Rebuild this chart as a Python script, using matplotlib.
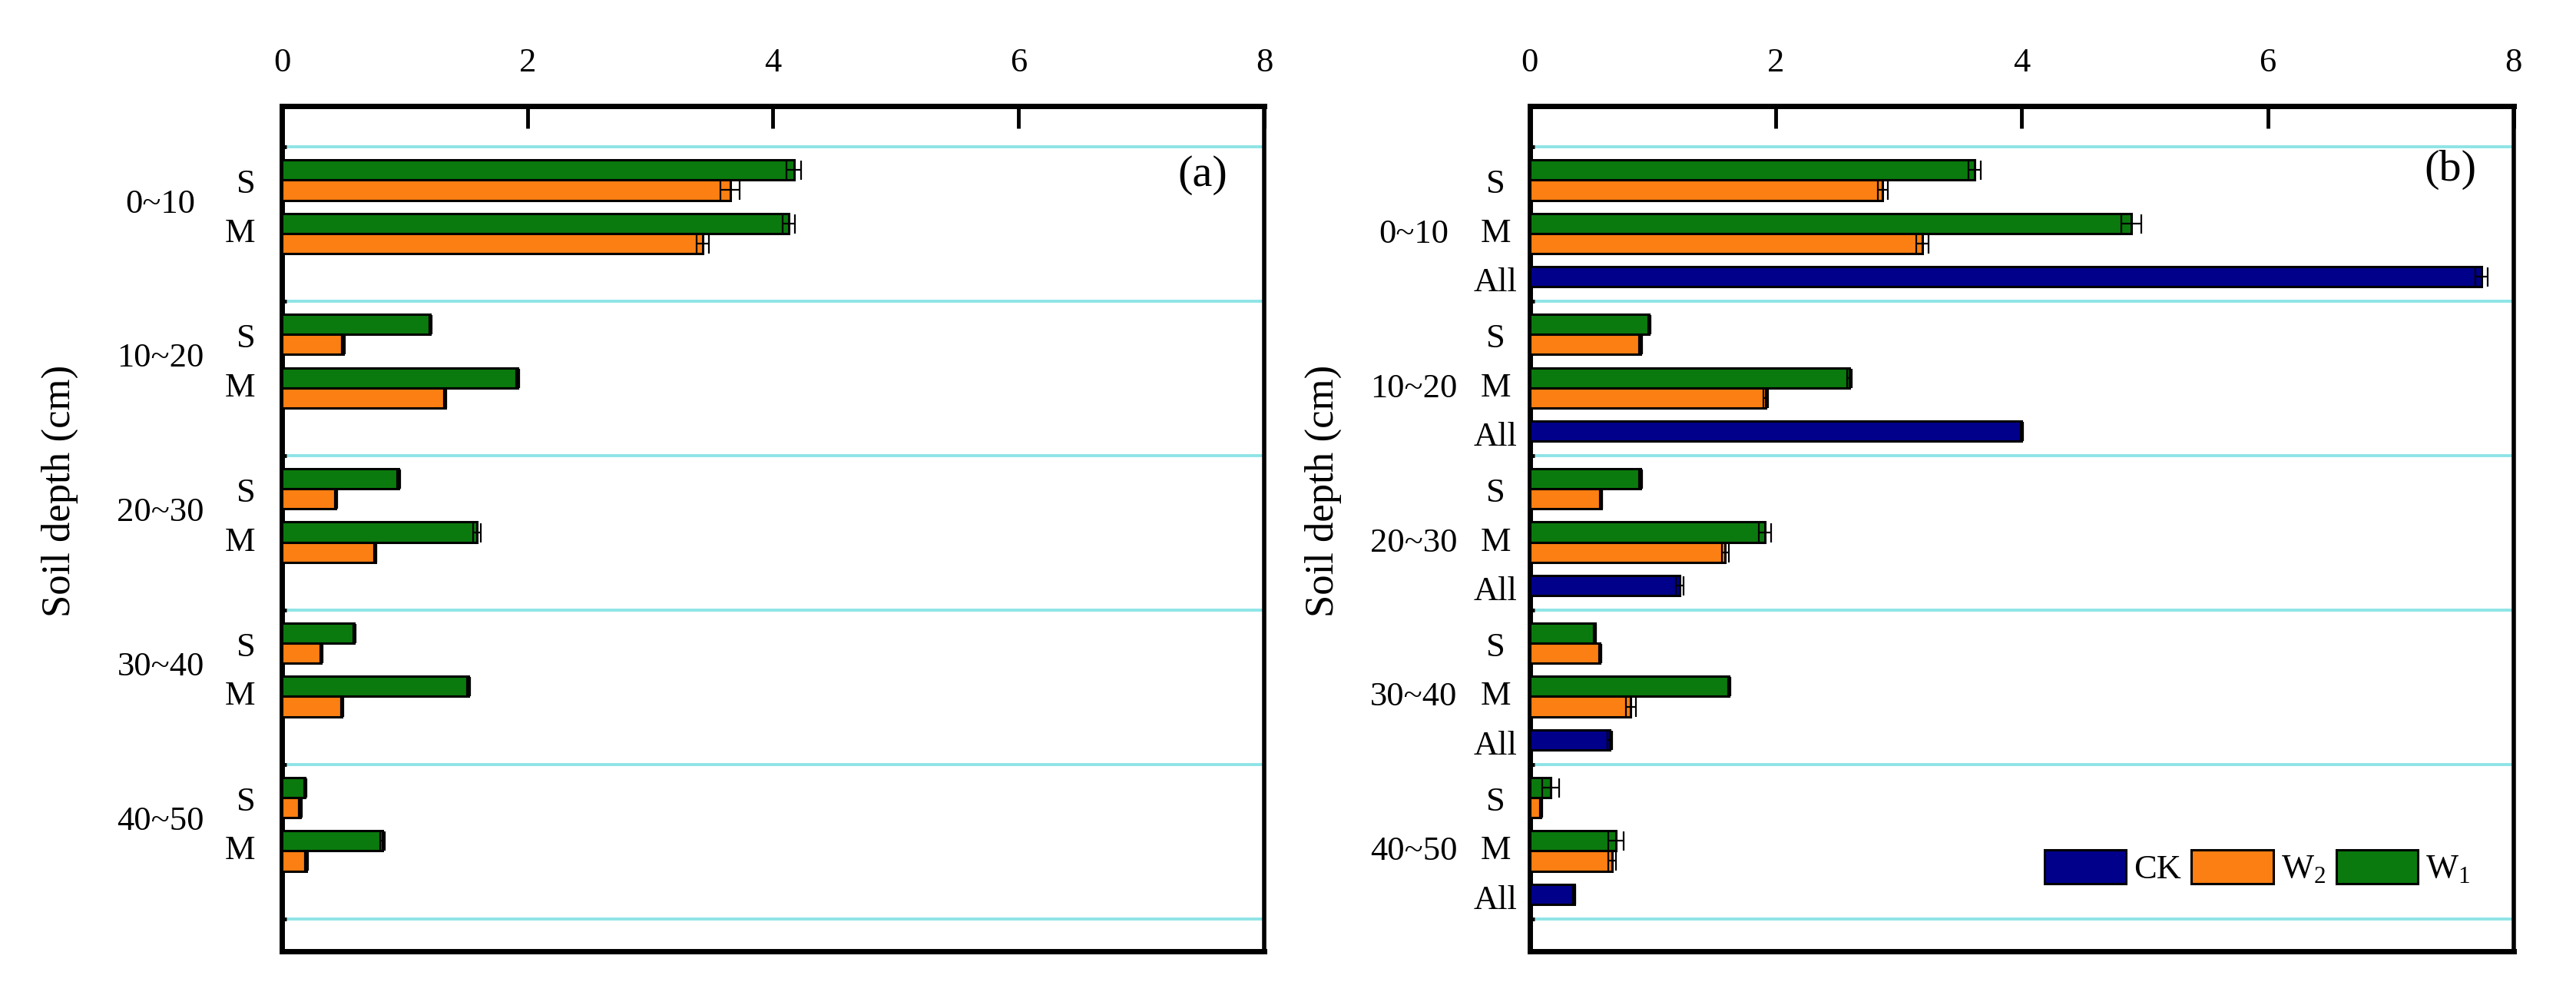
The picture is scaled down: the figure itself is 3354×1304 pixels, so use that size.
import numpy as np
import matplotlib
matplotlib.use("Agg")
import matplotlib.pyplot as plt
import matplotlib.transforms as mtransforms

plt.rcParams['font.family'] = ['Liberation Serif', 'DejaVu Serif']
plt.rcParams['mathtext.fontset'] = 'custom'
plt.rcParams['mathtext.rm'] = 'Liberation Serif'

# data
depths = ['0~10', '10~20', '20~30', '30~40', '40~50']

# panel (a)
a_w1_s = [4.17, 1.21, 0.95, 0.59, 0.19]
a_w1_s_err = [0.06, 0.01, 0.01, 0.01, 0.01]
a_w2_s = [3.65, 0.50, 0.44, 0.32, 0.15]
a_w2_s_err = [0.08, 0.01, 0.01, 0.01, 0.01]
a_w1_m = [4.13, 1.92, 1.59, 1.52, 0.82]
a_w1_m_err = [0.05, 0.01, 0.03, 0.01, 0.02]
a_w2_m = [3.43, 1.33, 0.76, 0.49, 0.20]
a_w2_m_err = [0.05, 0.01, 0.01, 0.01, 0.01]

# panel (b)
b_w1_s = [3.62, 0.97, 0.90, 0.53, 0.17]
b_w1_s_err = [0.05, 0.01, 0.01, 0.01, 0.07]
b_w2_s = [2.87, 0.90, 0.58, 0.57, 0.09]
b_w2_s_err = [0.04, 0.01, 0.01, 0.01, 0.01]
b_w1_m = [4.89, 2.60, 1.91, 1.62, 0.70]
b_w1_m_err = [0.08, 0.02, 0.05, 0.01, 0.06]
b_w2_m = [3.19, 1.92, 1.59, 0.82, 0.67]
b_w2_m_err = [0.05, 0.02, 0.03, 0.04, 0.03]
b_ck_all = [7.74, 4.00, 1.22, 0.65, 0.36]
b_ck_all_err = [0.05, 0.01, 0.03, 0.02, 0.01]

C_W1 = '#0b7a0e'
C_W2 = '#fb7f12'
C_CK = '#00008b'
GRID = '#8ee4e6'

# row offsets inside each depth group (group spans 1 unit)
OFF_S_W1, OFF_S_W2 = 0.150, 0.280
OFF_M_W1, OFF_M_W2 = 0.495, 0.625
OFF_ALL = 0.840
BAR_H = 0.13
FS = 32

y0 = np.arange(len(depths))


def hbars(ax, off, vals, errs, color, label=None):
    return ax.barh(y0 + off, vals, height=BAR_H, xerr=errs, color=color,
                   edgecolor='black', linewidth=2.2, label=label,
                   error_kw=dict(ecolor='black', elinewidth=1.6, capsize=9,
                                 capthick=1.6), zorder=3)


def style(ax):
    ax.set_xlim(0, 8)
    ax.set_ylim(5.21, -0.265)
    ax.xaxis.tick_top()
    ax.set_xticks([0, 2, 4, 6, 8])
    ax.tick_params(axis='x', direction='in', length=21, width=3.5,
                   labelsize=FS, pad=26, bottom=False, top=True)
    ax.set_yticks(np.arange(len(depths) + 1))
    ax.tick_params(axis='y', direction='in', length=4, width=3.5,
                   labelleft=False)
    ax.yaxis.grid(True, color=GRID, linewidth=2.8)
    ax.set_axisbelow(True)
    for sp in ax.spines.values():
        sp.set_linewidth(5)
    ax.spines['right'].set_linewidth(4)


fig = plt.figure(figsize=(33.55, 13.04), dpi=100)
ax1 = fig.add_axes([0.1094, 0.0506, 0.3812, 0.8436])
ax2 = fig.add_axes([0.5937, 0.0506, 0.3818, 0.8436])

# (a)
hbars(ax1, OFF_S_W1, a_w1_s, a_w1_s_err, C_W1)
hbars(ax1, OFF_S_W2, a_w2_s, a_w2_s_err, C_W2)
hbars(ax1, OFF_M_W1, a_w1_m, a_w1_m_err, C_W1)
hbars(ax1, OFF_M_W2, a_w2_m, a_w2_m_err, C_W2)
style(ax1)
tr1 = mtransforms.blended_transform_factory(ax1.transAxes, ax1.transData)
for i, d in enumerate(depths):
    ax1.text(-0.027, i + 0.245, 'S', transform=tr1, ha='right', va='center', fontsize=FS)
    ax1.text(-0.027, i + 0.56, 'M', transform=tr1, ha='right', va='center', fontsize=FS)
    ax1.text(-0.1235, i + 0.37, d, transform=tr1, ha='center', va='center', fontsize=FS)
ax1.text(-0.226, 0.545, 'Soil depth (cm)', transform=ax1.transAxes, rotation=90,
         ha='center', va='center', fontsize=38)
ax1.text(0.937, 0.918, '(a)', transform=ax1.transAxes, ha='center', va='center',
         fontsize=42)

# (b)
hbars(ax2, OFF_ALL, b_ck_all, b_ck_all_err, C_CK, 'CK')
hbars(ax2, OFF_S_W2, b_w2_s, b_w2_s_err, C_W2, r'W$_{\mathrm{2}}$')
hbars(ax2, OFF_S_W1, b_w1_s, b_w1_s_err, C_W1, r'W$_{\mathrm{1}}$')
hbars(ax2, OFF_M_W1, b_w1_m, b_w1_m_err, C_W1)
hbars(ax2, OFF_M_W2, b_w2_m, b_w2_m_err, C_W2)
style(ax2)
tr2 = mtransforms.blended_transform_factory(ax2.transAxes, ax2.transData)
for i, d in enumerate(depths):
    ax2.text(-0.035, i + 0.245, 'S', transform=tr2, ha='center', va='center', fontsize=FS)
    ax2.text(-0.035, i + 0.56, 'M', transform=tr2, ha='center', va='center', fontsize=FS)
    ax2.text(-0.035, i + 0.88, 'All', transform=tr2, ha='center', va='center', fontsize=FS)
    ax2.text(-0.118, i + 0.565, d, transform=tr2, ha='center', va='center', fontsize=FS)
ax2.text(-0.21, 0.545, 'Soil depth (cm)', transform=ax2.transAxes, rotation=90,
         ha='center', va='center', fontsize=38)
ax2.text(0.936, 0.925, '(b)', transform=ax2.transAxes, ha='center', va='center',
         fontsize=42)

ax2.legend(loc='center left', bbox_to_anchor=(0.523, 0.099), ncol=3,
           frameon=False, fontsize=FS, handlelength=2.4, handleheight=1.15,
           handletextpad=0.22, columnspacing=0.3, borderpad=0, borderaxespad=0)

fig.savefig('out.png', dpi=100)
